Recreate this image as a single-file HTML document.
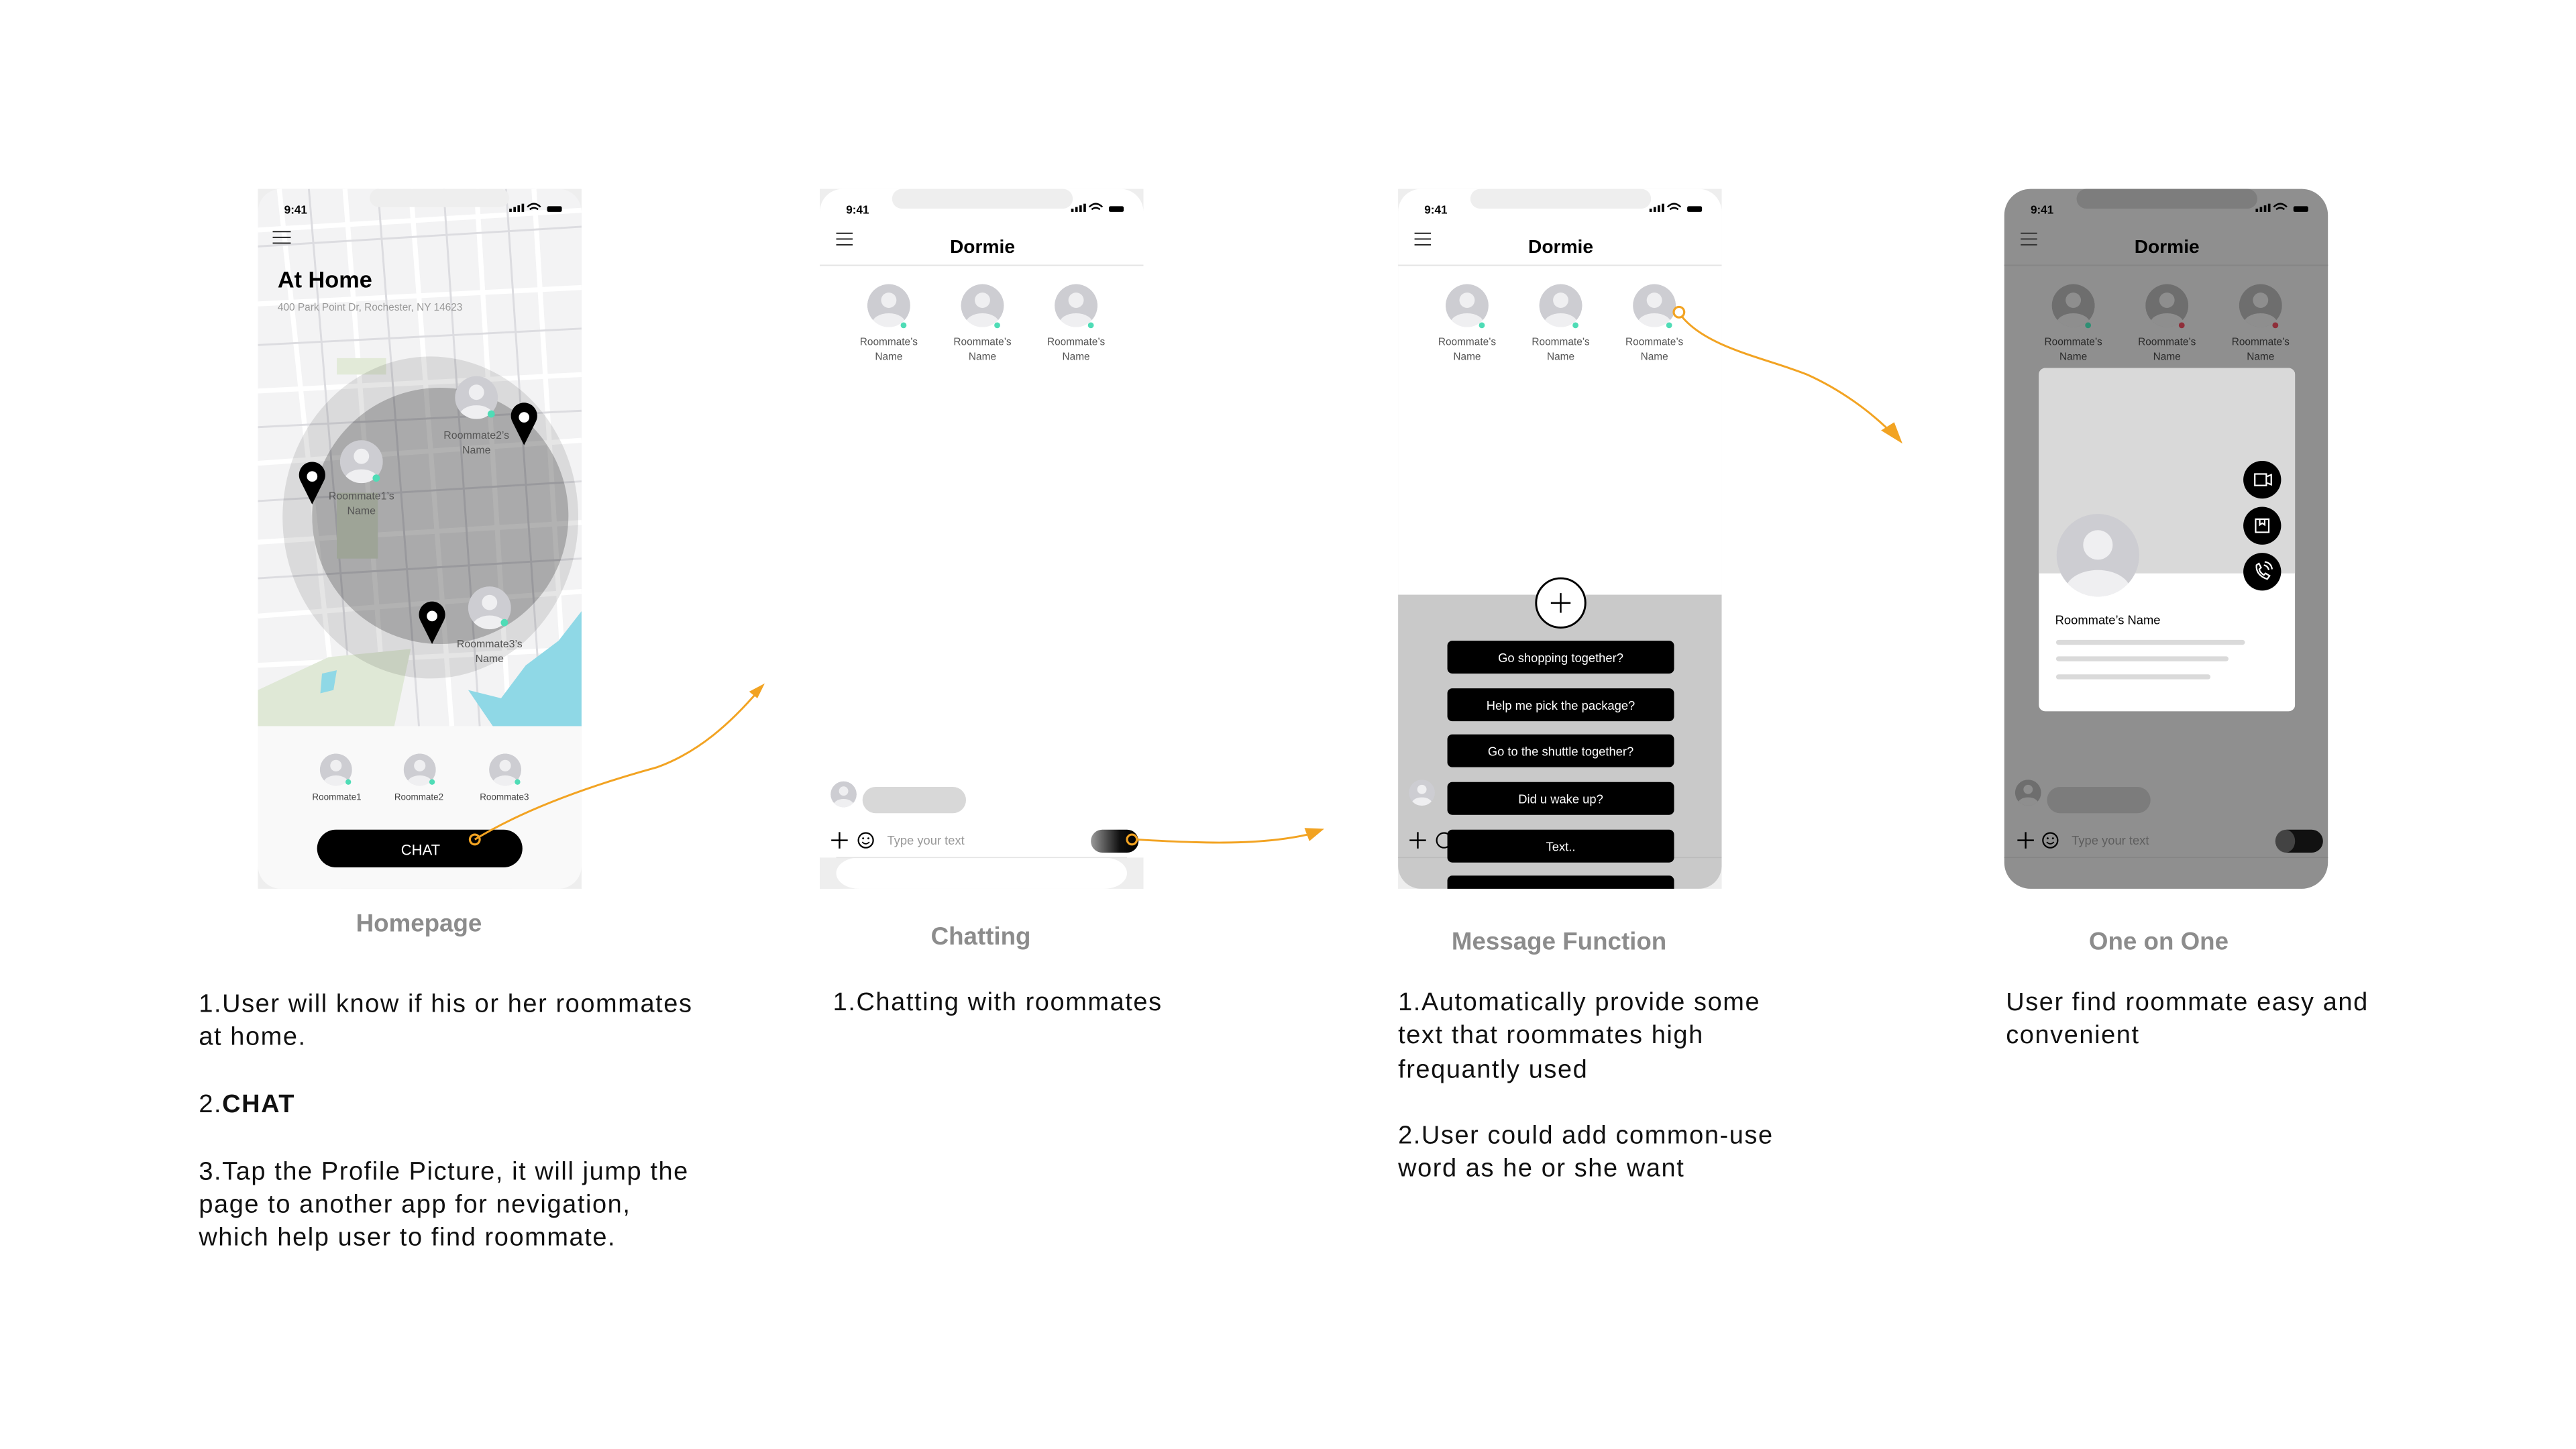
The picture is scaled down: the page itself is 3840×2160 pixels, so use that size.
<!DOCTYPE html>
<html><head><meta charset="utf-8"><style>
html,body{margin:0;padding:0;background:#fff;width:3840px;height:2160px;overflow:hidden}
svg{display:block}
text{font-family:"Liberation Sans",sans-serif}
</style></head><body>
<svg width="3840" height="2160" viewBox="0 0 1568 882" preserveAspectRatio="xMinYMin meet" xmlns="http://www.w3.org/2000/svg">
<defs>
<clipPath id="avc"><circle cx="0" cy="0" r="14"/></clipPath>
<symbol id="av" viewBox="-15 -15 30 30" overflow="visible">
<g clip-path="url(#avc)"><circle r="14" fill="#cdcdd2"/><circle cy="-3.5" r="5" fill="#efeff1"/><ellipse cy="12" rx="11" ry="7" fill="#efeff1"/></g>
</symbol>
<symbol id="avd" viewBox="-15 -15 30 30" overflow="visible">
<g clip-path="url(#avc)"><circle r="14" fill="#6e6e6e"/><circle cy="-3.5" r="5" fill="#8e8e8e"/><ellipse cy="12" rx="11" ry="7" fill="#8e8e8e"/></g>
</symbol>
<clipPath id="p1"><rect x="157" y="115" width="197" height="426" rx="14"/></clipPath>
<clipPath id="p3"><rect x="851" y="115" width="197" height="426" rx="14"/></clipPath>
<clipPath id="cardc"><rect x="1241" y="224" width="156" height="209" rx="4"/></clipPath>
<linearGradient id="sg" x1="0" x2="1"><stop offset="0" stop-color="#9a9a9a"/><stop offset="0.6" stop-color="#111"/><stop offset="1" stop-color="#000"/></linearGradient>
</defs>
<rect width="1568" height="882" fill="#fff"/>

<!-- ============ PHONE 1 ============ -->
<rect x="157" y="115" width="197" height="426" fill="#eeeeee"/>
<g clip-path="url(#p1)">
<rect x="157" y="115" width="197" height="327" fill="#f3f3f4"/>
<g stroke="#fff" stroke-width="3" fill="none">
<path d="M157 140 L354 128 M157 185 L354 175 M157 238 L354 228 M157 282 L354 268 M157 330 L354 318 M157 375 L354 360 M157 405 L354 395"/>
<path d="M170 115 L205 442 M210 115 L235 442 M250 115 L275 442 M290 115 L310 442 M325 115 L345 442"/>
</g>
<g stroke="#dcdce0" stroke-width="1.2" fill="none">
<path d="M157 150 L354 138 M157 210 L354 200 M157 260 L354 250 M157 305 L354 293 M157 352 L354 340"/>
<path d="M188 115 L215 442 M230 115 L255 442 M270 115 L292 442 M308 115 L330 442"/>
</g>
<rect x="205" y="218" width="30" height="10" fill="#e2ead8"/>
<rect x="205" y="300" width="25" height="40" fill="#e2ead8"/>
<path d="M157 442 L157 420 L200 400 L250 395 L240 442 Z" fill="#dfe8d6"/>
<path d="M196 410 L205 408 L203 420 L195 422 Z" fill="#8fd8e6"/>
<path d="M354 372 L354 442 L300 442 L285 420 L305 425 L320 405 L340 390 Z" fill="#8fd8e6"/>
<ellipse cx="262" cy="315" rx="90" ry="98" fill="#000" opacity="0.1"/>
<ellipse cx="268" cy="314" rx="78" ry="78" fill="#000" opacity="0.22"/>
<use href="#av" x="206" y="267" width="28" height="28"/>
<circle cx="229" cy="291" r="2.2" fill="#4fdcb6"/>
<text x="220" y="304" font-size="6.5" fill="#555" text-anchor="middle">Roommate1’s</text>
<text x="220" y="313" font-size="6.5" fill="#555" text-anchor="middle">Name</text>
<use href="#av" x="276" y="228" width="28" height="28"/>
<circle cx="299" cy="252" r="2.2" fill="#4fdcb6"/>
<text x="290" y="267" font-size="6.5" fill="#555" text-anchor="middle">Roommate2’s</text>
<text x="290" y="276" font-size="6.5" fill="#555" text-anchor="middle">Name</text>
<use href="#av" x="284" y="356" width="28" height="28"/>
<circle cx="307" cy="379" r="2.2" fill="#4fdcb6"/>
<text x="298" y="394" font-size="6.5" fill="#555" text-anchor="middle">Roommate3’s</text>
<text x="298" y="403" font-size="6.5" fill="#555" text-anchor="middle">Name</text>
<g fill="#000"><path d="M190 307 L183 293 A8 8 0 1 1 197 293 Z"/><path d="M319 271 L312 257 A8 8 0 1 1 326 257 Z"/><path d="M263 392 L256 378 A8 8 0 1 1 270 378 Z"/></g>
<g fill="#fff"><circle cx="190" cy="290" r="3.2"/><circle cx="319" cy="254" r="3.2"/><circle cx="263" cy="375" r="3.2"/></g>
<rect x="157" y="442" width="197" height="99" fill="#f9f9f9"/>
<use href="#av" x="194" y="458" width="21" height="21"/>
<use href="#av" x="245" y="458" width="21" height="21"/>
<use href="#av" x="297" y="458" width="21" height="21"/>
<circle cx="212" cy="476" r="1.7" fill="#4fdcb6"/><circle cx="263" cy="476" r="1.7" fill="#4fdcb6"/><circle cx="315" cy="476" r="1.7" fill="#4fdcb6"/>
<text x="205" y="487" font-size="5.5" fill="#444" text-anchor="middle">Roommate1</text>
<text x="255" y="487" font-size="5.5" fill="#444" text-anchor="middle">Roommate2</text>
<text x="307" y="487" font-size="5.5" fill="#444" text-anchor="middle">Roommate3</text>
<rect x="193" y="505" width="125" height="23" rx="11.5" fill="#000"/>
<text x="256" y="520.5" font-size="9" fill="#fff" text-anchor="middle">CHAT</text>
<rect x="225" y="115" width="85" height="11" rx="5.5" fill="#eeeeee"/>
<text x="173" y="130" font-size="7" font-weight="bold" fill="#000">9:41</text>
<g fill="#000"><rect x="310" y="127" width="1.5" height="2"/><rect x="312.5" y="126" width="1.5" height="3"/><rect x="315" y="125" width="1.5" height="4"/><rect x="317.5" y="124" width="1.5" height="5"/><rect x="333" y="125.5" width="9" height="3.5" rx="1"/></g>
<path d="M321 126 Q325 122 329 126 M322.5 127.5 Q325 125.5 327.5 127.5" stroke="#000" stroke-width="1" fill="none"/>
<g stroke="#222" stroke-width="0.8"><line x1="166" y1="141" x2="177" y2="141"/><line x1="166" y1="144.5" x2="177" y2="144.5"/><line x1="166" y1="148" x2="177" y2="148"/></g>
<text x="169" y="175" font-size="14" font-weight="bold" fill="#000">At Home</text>
<text x="169" y="189" font-size="6.3" fill="#999">400 Park Point Dr, Rochester, NY 14623</text>
</g>
<path d="M289 511 C 320 492 360 478 400 467 C 425 458 445 440 462 420" stroke="#f2a322" stroke-width="1.2" fill="none"/>
<circle cx="289" cy="511" r="3" stroke="#f2a322" stroke-width="1.3" fill="none"/>
<path d="M465.5 416 L456 421 L461 425 Z" fill="#f2a322"/>

<!-- ============ PHONE 2 ============ -->
<rect x="499" y="115" width="197" height="426" fill="#eeeeee"/>
<rect x="499" y="115" width="197" height="426" rx="14" fill="#fff"/>
<rect x="499" y="522" width="197" height="19" fill="#eeeeee"/>
<rect x="509" y="522" width="177" height="19" rx="14" fill="#fff"/>
<rect x="543" y="115" width="110" height="12" rx="6" fill="#eeeeee"/>
<text x="515" y="130" font-size="7" font-weight="bold" fill="#000">9:41</text>
<g fill="#000"><rect x="652" y="127" width="1.5" height="2"/><rect x="654.5" y="126" width="1.5" height="3"/><rect x="657" y="125" width="1.5" height="4"/><rect x="659.5" y="124" width="1.5" height="5"/><rect x="675" y="125.5" width="9" height="3.5" rx="1"/></g>
<path d="M663 126 Q667 122 671 126 M664.5 127.5 Q667 125.5 669.5 127.5" stroke="#000" stroke-width="1" fill="none"/>
<g stroke="#222" stroke-width="0.8"><line x1="509" y1="142" x2="519" y2="142"/><line x1="509" y1="145.5" x2="519" y2="145.5"/><line x1="509" y1="149" x2="519" y2="149"/></g>
<text x="598" y="154" font-size="11.5" font-weight="bold" fill="#000" text-anchor="middle">Dormie</text>
<line x1="499" y1="161.5" x2="696" y2="161.5" stroke="#e4e4e4" stroke-width="0.8"/>
<use href="#av" x="527" y="172" width="28" height="28"/><use href="#av" x="584" y="172" width="28" height="28"/><use href="#av" x="641" y="172" width="28" height="28"/>
<circle cx="550" cy="198" r="1.8" fill="#4fdcb6"/><circle cx="607" cy="198" r="1.8" fill="#4fdcb6"/><circle cx="664" cy="198" r="1.8" fill="#4fdcb6"/>
<g font-size="6.3" fill="#555" text-anchor="middle">
<text x="541" y="210">Roommate’s</text><text x="541" y="219">Name</text>
<text x="598" y="210">Roommate’s</text><text x="598" y="219">Name</text>
<text x="655" y="210">Roommate’s</text><text x="655" y="219">Name</text></g>
<use href="#av" x="505" y="475" width="17" height="17"/>
<rect x="525" y="479" width="63" height="16" rx="8" fill="#d8d8d8"/>
<path d="M506 511.5 H516 M511 506.5 V516.5" stroke="#000" stroke-width="1"/>
<circle cx="527" cy="511.5" r="4.5" stroke="#000" stroke-width="0.9" fill="none"/>
<circle cx="525.4" cy="510.3" r="0.6" fill="#000"/><circle cx="528.6" cy="510.3" r="0.6" fill="#000"/>
<path d="M524.8 512.5 Q527 514.8 529.2 512.5" stroke="#000" stroke-width="0.7" fill="none"/>
<text x="540" y="514" font-size="7.5" fill="#999">Type your text</text>
<rect x="664" y="505" width="29" height="14" rx="7" fill="url(#sg)"/>
<line x1="509" y1="522" x2="686" y2="522" stroke="#e4e4e4" stroke-width="0.6"/>
<path d="M692 511 C 725 513 765 515 796 508" stroke="#f2a322" stroke-width="1.2" fill="none"/>
<circle cx="689" cy="511" r="3" stroke="#f2a322" stroke-width="1.3" fill="none"/>
<path d="M806 504.5 L794 504 L797 512 Z" fill="#f2a322"/>

<!-- ============ PHONE 3 ============ -->
<rect x="851" y="115" width="197" height="426" fill="#eeeeee"/>
<g clip-path="url(#p3)">
<rect x="851" y="115" width="197" height="426" fill="#fff"/>
<rect x="895" y="115" width="110" height="12" rx="6" fill="#eeeeee"/>
<text x="867" y="130" font-size="7" font-weight="bold" fill="#000">9:41</text>
<g fill="#000"><rect x="1004" y="127" width="1.5" height="2"/><rect x="1006.5" y="126" width="1.5" height="3"/><rect x="1009" y="125" width="1.5" height="4"/><rect x="1011.5" y="124" width="1.5" height="5"/><rect x="1027" y="125.5" width="9" height="3.5" rx="1"/></g>
<path d="M1015 126 Q1019 122 1023 126 M1016.5 127.5 Q1019 125.5 1021.5 127.5" stroke="#000" stroke-width="1" fill="none"/>
<g stroke="#222" stroke-width="0.8"><line x1="861" y1="142" x2="871" y2="142"/><line x1="861" y1="145.5" x2="871" y2="145.5"/><line x1="861" y1="149" x2="871" y2="149"/></g>
<text x="950" y="154" font-size="11.5" font-weight="bold" fill="#000" text-anchor="middle">Dormie</text>
<line x1="851" y1="161.5" x2="1048" y2="161.5" stroke="#e4e4e4" stroke-width="0.8"/>
<use href="#av" x="879" y="172" width="28" height="28"/><use href="#av" x="936" y="172" width="28" height="28"/><use href="#av" x="993" y="172" width="28" height="28"/>
<circle cx="902" cy="198" r="1.8" fill="#4fdcb6"/><circle cx="959" cy="198" r="1.8" fill="#4fdcb6"/><circle cx="1016" cy="198" r="1.8" fill="#4fdcb6"/>
<g font-size="6.3" fill="#555" text-anchor="middle">
<text x="893" y="210">Roommate’s</text><text x="893" y="219">Name</text>
<text x="950" y="210">Roommate’s</text><text x="950" y="219">Name</text>
<text x="1007" y="210">Roommate’s</text><text x="1007" y="219">Name</text></g>
<rect x="851" y="362" width="197" height="179" fill="#c9c9c9"/>
<use href="#av" x="857" y="474" width="17" height="17"/>
<path d="M858 511.5 H868 M863 506.5 V516.5" stroke="#000" stroke-width="1"/>
<circle cx="879" cy="511.5" r="4.5" stroke="#000" stroke-width="0.9" fill="none"/>
<line x1="851" y1="522" x2="1048" y2="522" stroke="#bbb" stroke-width="0.6"/>
<g fill="#000"><rect x="881" y="390" width="138" height="20" rx="3"/><rect x="881" y="419" width="138" height="20" rx="3"/><rect x="881" y="447" width="138" height="20" rx="3"/><rect x="881" y="476" width="138" height="20" rx="3"/><rect x="881" y="505" width="138" height="20" rx="3"/><rect x="881" y="533" width="138" height="20" rx="3"/></g>
<g font-size="7.5" fill="#fff" text-anchor="middle">
<text x="950" y="403">Go shopping together?</text>
<text x="950" y="432">Help me pick the package?</text>
<text x="950" y="460">Go to the shuttle together?</text>
<text x="950" y="489">Did u wake up?</text>
<text x="950" y="518">Text..</text></g>
<circle cx="950" cy="367" r="15" fill="#fff" stroke="#000" stroke-width="1.2"/>
<path d="M944 367 H956 M950 361 V373" stroke="#000" stroke-width="1"/>
</g>
<path d="M1024 193 C 1040 212 1075 218 1100 228 C 1120 237 1138 250 1152 264" stroke="#f2a322" stroke-width="1.2" fill="none"/>
<circle cx="1022" cy="190" r="3.2" stroke="#f2a322" stroke-width="1.3" fill="none"/>
<path d="M1158 270 L1145 262 L1153 257 Z" fill="#f2a322"/>

<!-- ============ PHONE 4 ============ -->
<rect x="1220" y="115" width="197" height="426" rx="16" fill="#8f8f8f"/>
<rect x="1264" y="115" width="110" height="12" rx="6" fill="#7d7d7d"/>
<text x="1236" y="130" font-size="7" font-weight="bold" fill="#000">9:41</text>
<g fill="#000"><rect x="1373" y="127" width="1.5" height="2"/><rect x="1375.5" y="126" width="1.5" height="3"/><rect x="1378" y="125" width="1.5" height="4"/><rect x="1380.5" y="124" width="1.5" height="5"/><rect x="1396" y="125.5" width="9" height="3.5" rx="1"/></g>
<path d="M1384 126 Q1388 122 1392 126 M1385.5 127.5 Q1388 125.5 1390.5 127.5" stroke="#000" stroke-width="1" fill="none"/>
<g stroke="#333" stroke-width="0.8"><line x1="1230" y1="142" x2="1240" y2="142"/><line x1="1230" y1="145.5" x2="1240" y2="145.5"/><line x1="1230" y1="149" x2="1240" y2="149"/></g>
<text x="1319" y="154" font-size="11.5" font-weight="bold" fill="#000" text-anchor="middle">Dormie</text>
<line x1="1220" y1="161.5" x2="1417" y2="161.5" stroke="#858585" stroke-width="0.8"/>
<use href="#avd" x="1248" y="172" width="28" height="28"/><use href="#avd" x="1305" y="172" width="28" height="28"/><use href="#avd" x="1362" y="172" width="28" height="28"/>
<circle cx="1271" cy="198" r="1.8" fill="#2f8f74"/><circle cx="1328" cy="198" r="1.8" fill="#8f2f3a"/><circle cx="1385" cy="198" r="1.8" fill="#8f2f3a"/>
<g font-size="6.3" fill="#2a2a2a" text-anchor="middle">
<text x="1262" y="210">Roommate’s</text><text x="1262" y="219">Name</text>
<text x="1319" y="210">Roommate’s</text><text x="1319" y="219">Name</text>
<text x="1376" y="210">Roommate’s</text><text x="1376" y="219">Name</text></g>
<g clip-path="url(#cardc)">
<rect x="1241" y="224" width="156" height="209" fill="#fff"/>
<rect x="1241" y="224" width="156" height="125" fill="#d9d9d9"/>
</g>
<use href="#av" x="1250" y="311" width="54" height="54"/>
<text x="1251" y="380" font-size="7.5" fill="#000">Roommate’s Name</text>
<g stroke="#dadada" stroke-width="3" stroke-linecap="round"><line x1="1253" y1="391" x2="1365" y2="391"/><line x1="1253" y1="401" x2="1355" y2="401"/><line x1="1253" y1="412" x2="1344" y2="412"/></g>
<g fill="#000"><circle cx="1377" cy="292" r="11.5"/><circle cx="1377" cy="320" r="11.5"/><circle cx="1377" cy="348" r="11.5"/></g>
<g stroke="#fff" stroke-width="0.9" fill="none">
<rect x="1372.5" y="288.5" width="7" height="7"/><path d="M1380 290 L1382.5 289 V295 L1380 294"/>
<rect x="1373" y="316" width="8" height="8"/><path d="M1375.5 316 V319.5 L1377 318.5 L1378.5 319.5 V316"/>
<path d="M1373.5 344 Q1373 350 1380 352.5 L1381.5 350.5 L1379 349 L1378 350 Q1375.5 348.5 1375.2 346.5 L1376.3 345.5 L1375 343 Z M1378 344 Q1380.5 344.5 1381 347 M1378.5 342 Q1382.5 342.5 1383 346.5"/>
</g>
<use href="#avd" x="1226" y="474" width="17" height="17"/>
<rect x="1246" y="479" width="63" height="16" rx="8" fill="#7c7c7c"/>
<path d="M1228 511.5 H1238 M1233 506.5 V516.5" stroke="#000" stroke-width="1"/>
<circle cx="1248" cy="511.5" r="4.5" stroke="#000" stroke-width="0.9" fill="none"/>
<circle cx="1246.4" cy="510.3" r="0.6" fill="#000"/><circle cx="1249.6" cy="510.3" r="0.6" fill="#000"/>
<path d="M1245.8 512.5 Q1248 514.8 1250.2 512.5" stroke="#000" stroke-width="0.7" fill="none"/>
<text x="1261" y="514" font-size="7.5" fill="#5e5e5e">Type your text</text>
<rect x="1385" y="505" width="29" height="14" rx="7" fill="#111"/>
<rect x="1385" y="505" width="12" height="14" rx="7" fill="#666" opacity="0.6"/>
<line x1="1220" y1="522" x2="1417" y2="522" stroke="#858585" stroke-width="0.6"/>

<!-- ============ CAPTIONS ============ -->
<g font-size="15" font-weight="bold" fill="#8c8c8c" text-anchor="middle">
<text x="255" y="567">Homepage</text>
<text x="597" y="575">Chatting</text>
<text x="949" y="578">Message Function</text>
<text x="1314" y="578">One on One</text>
</g>
<g font-size="15.5" fill="#111" letter-spacing="0.65">
<text x="121" y="616">1.User will know if his or her roommates</text>
<text x="121" y="636">at home.</text>
<text x="121" y="677">2.<tspan font-weight="bold">CHAT</tspan></text>
<text x="121" y="718">3.Tap the Profile Picture, it will jump the</text>
<text x="121" y="738">page to another app for nevigation,</text>
<text x="121" y="758">which help user to find roommate.</text>
<text x="507" y="615">1.Chatting with roommates</text>
<text x="851" y="615">1.Automatically provide some</text>
<text x="851" y="635">text that roommates high</text>
<text x="851" y="656">frequantly used</text>
<text x="851" y="696">2.User could add common-use</text>
<text x="851" y="716">word as he or she want</text>
<text x="1221" y="615">User find roommate easy and</text>
<text x="1221" y="635">convenient</text>
</g>
</svg>
</body></html>
